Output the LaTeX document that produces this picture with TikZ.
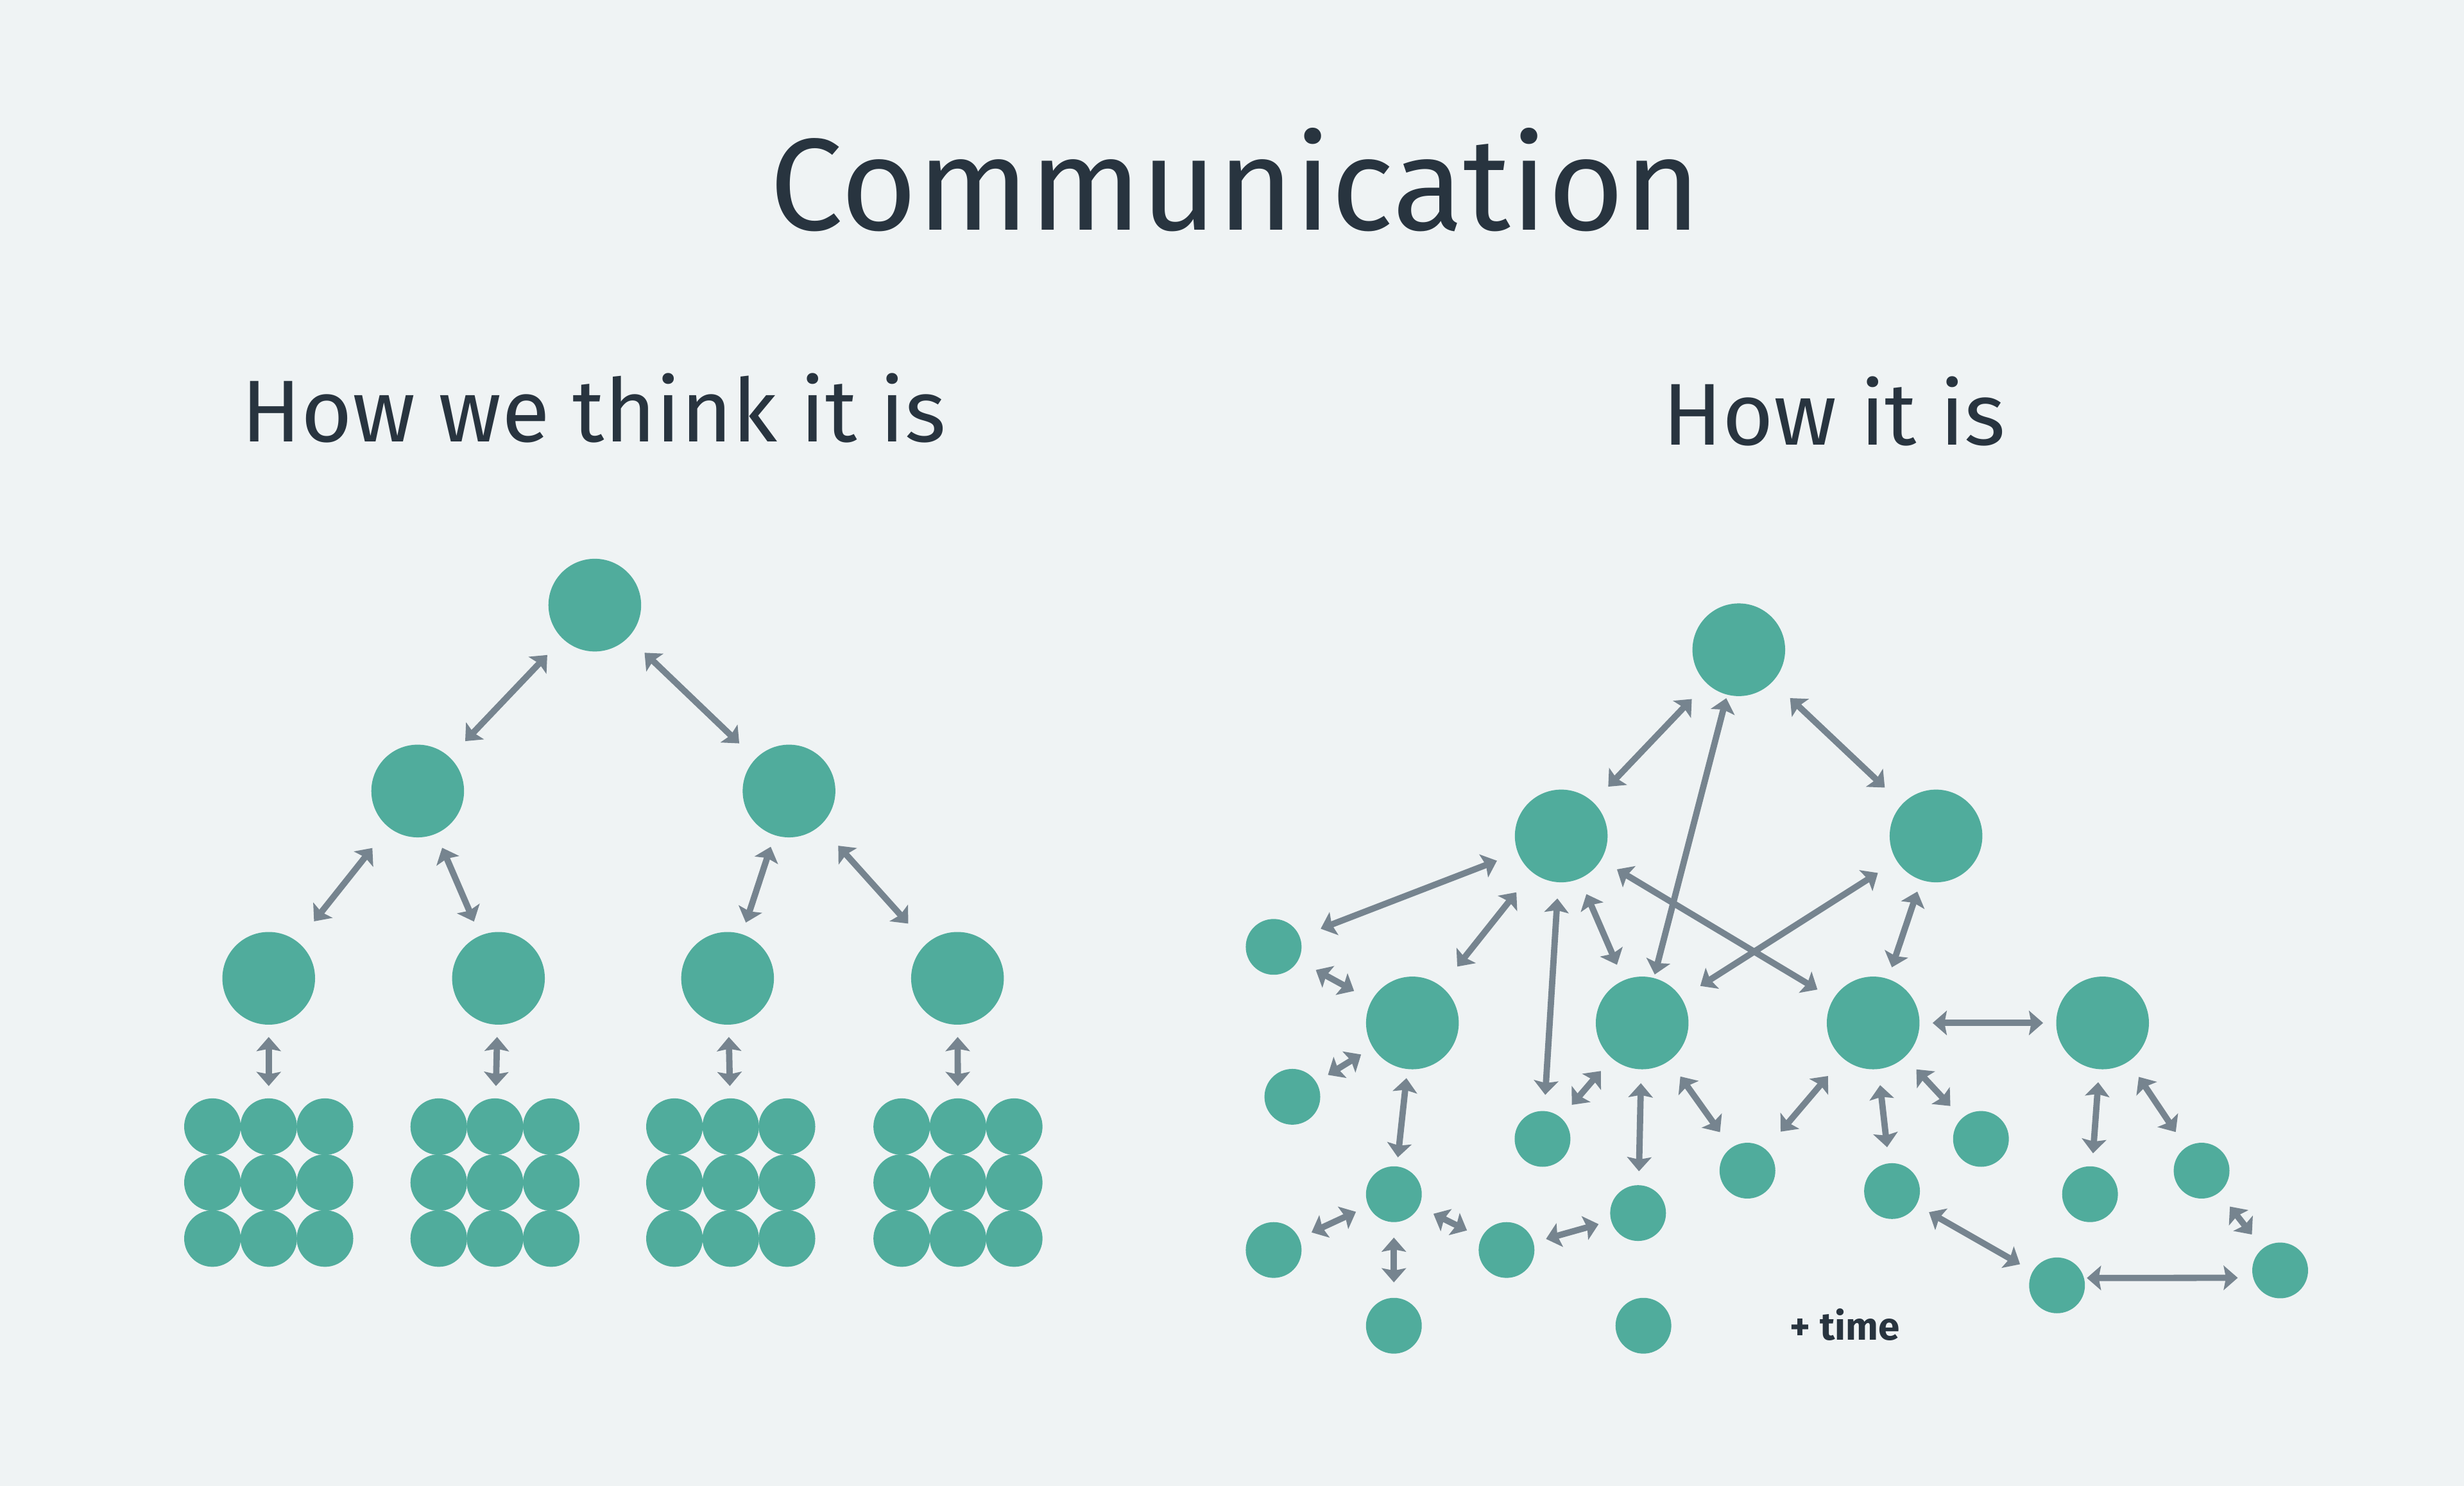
\documentclass[tikz,border=0pt]{standalone}
\usepackage{fontspec}
\setmainfont{Fira Sans}
\usetikzlibrary{arrows.meta}
\definecolor{bgcol}{HTML}{EFF3F4}
\definecolor{nodecol}{HTML}{50AC9C}
\definecolor{linkcol}{HTML}{76848F}
\definecolor{textcol}{HTML}{28343F}
\tikzstyle{big} = [circle, fill=nodecol, minimum size=1.18cm, inner sep=0pt]
\tikzstyle{small} = [circle, fill=nodecol, minimum size=0.71cm, inner sep=0pt]
\tikzstyle{dot} = [circle, fill=nodecol, minimum size=0.72cm, inner sep=0pt]
\tikzstyle{link} = [draw=linkcol, line width=0.08cm,
    {Stealth[length=0.18cm, width=0.31cm, inset=0.03cm]}-{Stealth[length=0.18cm, width=0.31cm, inset=0.03cm]}]
\tikzstyle{heading} = [text=textcol, inner sep=0pt, anchor=base]
\tikzset{sp/.style={shorten >=#1cm, shorten <=#1cm}}

\begin{document}
\begin{tikzpicture}[x=0.02cm, y=-0.02cm]
    % background and page size
    \fill [bgcol] (0,0) rectangle (1568,945.7);
    \useasboundingbox (0,0) rectangle (1568,945.7);

    % titles
    \node [heading, font=\fontsize{47.4pt}{48pt}\selectfont] (title) at (786.1,146.2) {Communication};
    \node [heading, font=\fontsize{31.8pt}{32pt}\selectfont] (think) at (377.9,281.1) {How we think it is};
    \node [heading, font=\fontsize{31.8pt}{32pt}\selectfont] (real) at (1167.3,283.1) {How it is};

    % the tree we imagine
    \node [big] (root) at (378.5,385.1) {};
    \node [big] (lA) at (265.8,503.4) {};
    \node [big] (lB) at (502.1,503.4) {};
    \node [big] (t1) at (171,622.6) {};
    \node [big] (t2) at (317.2,622.6) {};
    \node [big] (t3) at (463,622.6) {};
    \node [big] (t4) at (609.3,622.6) {};
    % teams of nine below each lead
    \foreach \k/\cx in {1/171, 2/315, 3/465, 4/609.6}
        \foreach \i in {0,1,2}
            \foreach \j in {0,1,2}
                \node [dot] (g\k-\i-\j) at (\cx-35.8+35.8*\j, 717+35.6*\i) {};

    \draw [link, sp=0.28] (root) -- (lA);
    \draw [link, sp=0.28] (root) -- (lB);
    \draw [link, sp=0.33] (lA) -- (t1);
    \draw [link, sp=0.19] (lA) -- (t2);
    \draw [link, sp=0.15] (lB) -- (t3);
    \draw [link, sp=0.34] (lB) -- (t4);
    \foreach \k in {1,2,3,4}
        \draw [link, sp=0.15] (t\k) -- (g\k-0-1);

    % the graph as it is
    \node [big] (top) at (1106.5,413.5) {};
    \node [big] (ml) at (993.5,532) {};
    \node [big] (mr) at (1232,532) {};
    \node [big] (c1) at (898.8,651) {};
    \node [big] (c2) at (1045,651) {};
    \node [big] (c3) at (1192,651) {};
    \node [big] (c4) at (1338,651) {};
    \node [small] (p1) at (810.5,602.6) {};
    \node [small] (p2) at (822.4,698) {};
    \node [small] (p3) at (981.6,724.8) {};
    \node [small] (p4) at (1112,745) {};
    \node [small] (p5) at (1204,758) {};
    \node [small] (p6) at (1260.6,724.8) {};
    \node [small] (p7) at (1330,760) {};
    \node [small] (p8) at (1401,745) {};
    \node [small] (p9) at (887,760) {};
    \node [small] (p10) at (810.5,795.5) {};
    \node [small] (p11) at (958.7,795.5) {};
    \node [small] (p12) at (1042.4,772) {};
    \node [small] (p13) at (887,843.7) {};
    \node [small] (p14) at (1045.8,843.7) {};
    \node [small] (p15) at (1309,818) {};
    \node [small] (p16) at (1451,808.5) {};
    \node [heading, font=\bfseries\fontsize{14pt}{15pt}\selectfont] (time) at (1174,852.7) {+ time};

    \draw [link, sp=0.27] (top) -- (ml);
    \draw [link, sp=0.30] (top) -- (mr);
    \draw [link, sp=0.04] (top) -- (c2);
    \draw [link, sp=0.28] (ml) -- (p1);
    \draw [link, sp=0.32] (ml) -- (c1);
    \draw [link, sp=0.20] (ml) -- (p3);
    \draw [link, sp=0.21] (ml) -- (c2);
    \draw [link, sp=0.23] (ml) -- (c3);
    \draw [link, sp=0.28] (mr) -- (c2);
    \draw [link, sp=0.15] (mr) -- (c3);
    \draw [link, sp=0.16] (c3) -- (c4);
    \draw [link, sp=0.25] (p1) -- (c1);
    \draw [link, sp=0.17] (p2) -- (c1);
    \draw [link, sp=0.11] (c1) -- (p9);
    \draw [link, sp=0.21] (p3) -- (c2);
    \draw [link, sp=0.17] (c2) -- (p12);
    \draw [link, sp=0.24] (c2) -- (p4);
    \draw [link, sp=0.29] (p4) -- (c3);
    \draw [link, sp=0.20] (c3) -- (p5);
    \draw [link, sp=0.21] (c3) -- (p6);
    \draw [link, sp=0.16] (c4) -- (p7);
    \draw [link, sp=0.23] (c4) -- (p8);
    \draw [link, sp=0.22] (p8) -- (p16);
    \draw [link, sp=0.18] (p5) -- (p15);
    \draw [link, shorten <=0.03cm, shorten >=0.19cm] (p15.15) -- (p16.195);
    \draw [link, sp=0.17] (p10) -- (p9);
    \draw [link, sp=0.19] (p9) -- (p13);
    \draw [link, sp=0.20] (p9) -- (p11);
    \draw [link, sp=0.16] (p11) -- (p12);
\end{tikzpicture}
\end{document}
